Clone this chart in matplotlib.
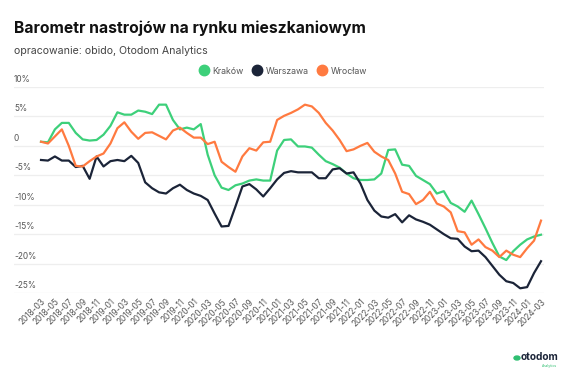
import numpy as np
import matplotlib
matplotlib.use("Agg")
import matplotlib.pyplot as plt
from matplotlib.lines import Line2D
from matplotlib.patches import Circle

plt.rcParams['font.family'] = ['Inter', 'DejaVu Sans']

# monthly data 2018-03 .. 2024-03 (73 months)
months = []
for y in range(2018, 2025):
    for m in range(1, 13):
        if (y == 2018 and m < 3) or (y == 2024 and m > 3):
            continue
        months.append(f"{y}-{m:02d}")

krakow = [0.7, 0.6, 2.8, 3.9, 3.9, 2.2, 1.1, 0.9, 1.0, 1.9,
          3.4, 5.7, 5.3, 5.3, 6.0, 5.8, 5.4, 7.0, 7.0, 4.4,
          2.8, 3.1, 2.8, 3.7, -1.5, -5.0, -7.1, -7.5, -6.7, -6.4,
          -5.9, -5.7, -5.9, -5.9, -0.8, 1.0, 1.1, -0.1, -0.1, -0.3,
          -1.5, -2.6, -3.1, -3.7, -4.7, -5.5, -5.8, -5.8, -5.7, -4.7,
          -0.7, -0.6, -3.2, -3.4, -5.1, -5.8, -6.5, -8.1, -7.7, -9.7,
          -10.3, -11.2, -9.3, -11.6, -14.0, -16.5, -18.8, -19.4, -17.9, -16.8,
          -15.9, -15.4, -15.1]

warszawa = [-2.4, -2.5, -1.8, -2.5, -2.5, -3.6, -3.4, -5.6, -1.8, -3.5,
            -2.6, -2.4, -2.6, -1.7, -2.9, -6.2, -7.2, -7.9, -8.1, -7.2,
            -6.6, -7.5, -8.1, -8.5, -9.2, -11.5, -13.7, -13.6, -10.3, -6.9,
            -6.5, -7.4, -8.6, -7.2, -5.7, -4.6, -4.3, -4.5, -4.5, -4.5,
            -5.5, -5.5, -4.0, -3.8, -4.7, -4.5, -6.4, -9.2, -11.0, -12.0,
            -12.2, -11.6, -13.0, -11.8, -12.5, -12.9, -13.4, -14.2, -15.0, -15.7,
            -15.8, -17.1, -17.9, -17.8, -18.9, -20.4, -21.9, -23.0, -23.3, -24.2,
            -24.0, -21.6, -19.6]

wroclaw = [0.7, 0.4, 1.6, 2.8, 0.0, -3.4, -3.5, -2.6, -1.8, -1.3,
           0.4, 3.0, 4.0, 2.4, 1.2, 2.2, 2.3, 1.7, 1.1, 2.6,
           3.1, 2.2, 1.4, 1.4, 0.3, 0.7, -2.7, -3.6, -4.4, -1.8,
           -0.4, -0.8, 0.6, 0.7, 4.4, 5.1, 5.6, 6.2, 7.0, 6.7,
           5.6, 3.9, 2.6, 1.0, -0.9, -0.6, 0.0, 0.5, -1.0, -1.8,
           -2.4, -4.7, -7.8, -8.2, -9.9, -9.2, -7.8, -9.8, -10.3, -11.3,
           -14.5, -14.7, -16.8, -15.9, -17.2, -17.8, -18.9, -17.8, -18.5, -18.9,
           -17.4, -16.1, -12.7]

series = ["Kraków", "Warszawa", "Wrocław"]
colors = ["#3dd07a", "#1b2438", "#ff7a40"]
yticks = [10, 5, 0, -5, -10, -15, -20, -25]
ylabels = ["10%", "5%", "0", "-5%", "-10%", "-15%", "-20%", "-25%"]

W, H = 564, 372
fig = plt.figure(figsize=(W / 100, H / 100), dpi=100)
ax = fig.add_axes([14 / W, 1 - 293 / H, 530 / W, 206 / H])

x = np.arange(len(months))
for vals, c in zip([krakow, warszawa, wroclaw], colors):
    ax.plot(x, vals, color=c, lw=1.6, solid_joinstyle='round')

ax.set_xlim(-3.89, 72.43)
ax.set_ylim(-25, 10)
ax.set_yticks(yticks)
ax.set_yticklabels([])
ax.tick_params(axis='y', length=0)
ax.grid(axis='y', color='#eeeeee', lw=0.9)
ax.set_axisbelow(True)
for s in ax.spines.values():
    s.set_visible(False)

# y labels sit above grid lines
for v, lab in zip(yticks, ylabels):
    ax.text(0, v + 0.5, lab, transform=ax.get_yaxis_transform(),
            fontsize=6, color='#555555', ha='left', va='bottom')

ax.set_xticks(x[::2])
ax.set_xticklabels(months[::2], rotation=45, ha='right',
                   rotation_mode='anchor', fontsize=6, color='#555555')
ax.tick_params(axis='x', length=0, pad=3)

fig.text(14 / W, 1 - 28 / H, "Barometr nastrojów na rynku mieszkaniowym",
         fontsize=11.3, fontweight='bold', color='#111111', va='center')
fig.text(14 / W, 1 - 51 / H, "opracowanie: obido, Otodom Analytics",
         fontsize=7.6, color='#444444', va='center')

handles = [Line2D([], [], marker='o', ls='', color=c, markersize=7.5) for c in colors]
fig.legend(handles, series, loc='center', bbox_to_anchor=(282 / W, 1 - 71 / H),
           ncol=3, frameon=False, fontsize=6.3, handletextpad=0.2,
           columnspacing=0.7, handlelength=1.6, labelcolor='#555555')

# logo
fig.patches.append(Circle((517 / W, 1 - 358 / H), 3 / W, transform=fig.transFigure,
                          color='#2fbf71', zorder=5))
fig.text(521 / W, 1 - 357 / H, "otodom", fontsize=7.3, fontweight='bold',
         color='#1b2438', va='center', ha='left')
fig.text(557 / W, 1 - 366 / H, "Analytics", fontsize=2.5, color='#2fbf71',
         va='center', ha='right')

fig.savefig("out.png", dpi=100)
